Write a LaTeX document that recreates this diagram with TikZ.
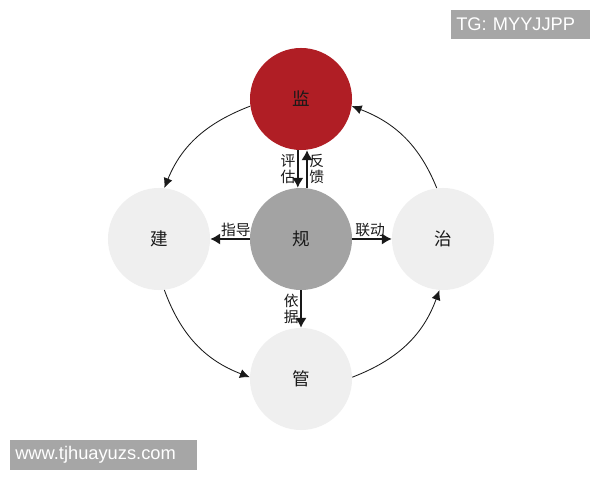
\documentclass[tikz,border=0pt]{standalone}
\usepackage{fontspec}
\setsansfont{Liberation Sans}
\newfontfamily\cjk{Noto Sans CJK SC}
\usepackage{xcolor}
\usepackage{tikz}
\usetikzlibrary{shapes,arrows.meta,calc}
\definecolor{cRed}{RGB}{176,30,37}
\definecolor{cGray}{RGB}{163,163,163}
\definecolor{cLight}{RGB}{239,239,239}
\definecolor{cMark}{RGB}{166,166,166}
\tikzstyle{tsCircle} = [
    circle,
    minimum size=2.55cm,
    inner sep=0pt,
    text=black!90,
    font=\cjk\fontsize{12.5}{14}\selectfont
]
\tikzstyle{tsLabel} = [
    text=black!90,
    inner sep=1.2pt,
    align=center,
    font=\cjk\fontsize{10.5}{11}\selectfont
]
\tikzstyle{tsArrow} = [
    -{Latex[length=7pt,width=8pt]},
    line width=1.1pt,
    black!90
]
\tikzstyle{tsArc} = [
    -{Latex[length=7pt,width=6.5pt]},
    line width=0.6pt,
    black!90
]
\tikzstyle{tsMark} = [
    fill=cMark,
    text=white,
    anchor=west,
    inner xsep=0.125cm,
    align=left,
    font=\sffamily\fontsize{13}{15}\selectfont
]

\begin{document}
\begin{tikzpicture}[x=0.025cm, y=0.025cm]

        \fill[white] (0,0) rectangle (600,480);

        \node[tsCircle, fill=cRed]   (monitor) at (301,381) {监};
        \node[tsCircle, fill=cGray]  (plan)    at (301,241) {规};
        \node[tsCircle, fill=cLight] (build)   at (159,241) {建};
        \node[tsCircle, fill=cLight] (govern)  at (443,241) {治};
        \node[tsCircle, fill=cLight] (manage)  at (301,101) {管};

        % straight arrows from the centre
        \draw[tsArrow] ([xshift=-0.08cm]monitor.south) -- node[tsLabel, left] {评\\估} ([xshift=-0.08cm]plan.north);
        \draw[tsArrow] ([xshift=0.15cm]plan.north) -- node[tsLabel, right] {反\\馈} ([xshift=0.15cm]monitor.south);
        \draw[tsArrow] (plan.west) -- node[tsLabel, above, pos=0.35] {指导} (build.east);
        \draw[tsArrow] (plan.east) -- node[tsLabel, above, pos=0.45] {联动} (govern.west);
        \draw[tsArrow] (plan.south) -- node[tsLabel, left] {依\\据} (manage.north);

        % outer ring
        \draw[tsArc] (monitor.188) to[out=201, in=68]  (build.84);
        \draw[tsArc] (build.276)   to[out=290, in=159] (manage.178);
        \draw[tsArc] (manage.2)    to[out=21,  in=250] (govern.266);
        \draw[tsArc] (govern.97)   to[out=112, in=339] (monitor.352);

        \node[tsMark, minimum width=3.475cm, minimum height=0.725cm, text width=3.225cm] (tg)  at (451,455.5) {TG: MYYJJPP};
        \node[tsMark, minimum width=4.675cm, minimum height=0.75cm, text width=4.425cm]  (www) at (10,25) {www.tjhuayuzs.com};

\end{tikzpicture}
\end{document}
